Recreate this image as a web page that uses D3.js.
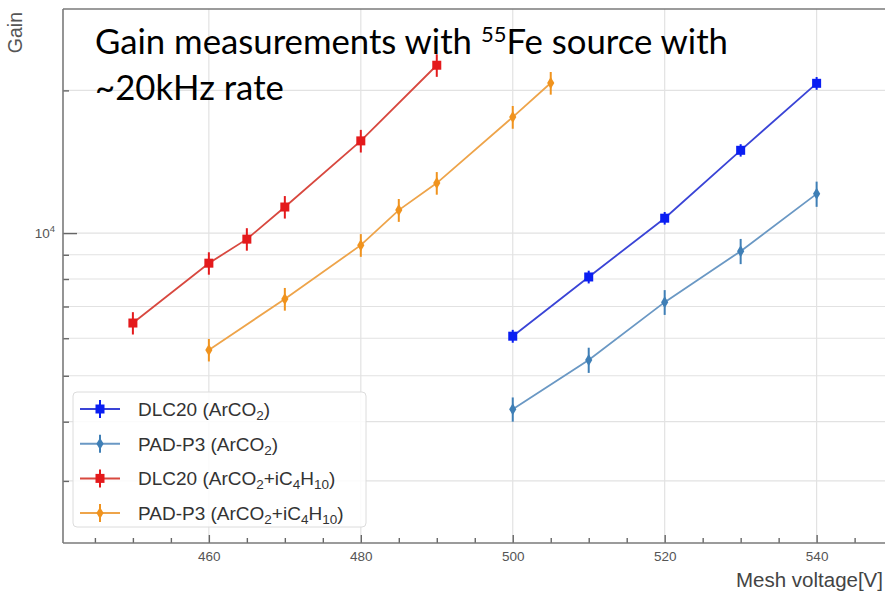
<!DOCTYPE html>
<html>
<head>
<meta charset="utf-8">
<script src="https://cdn.jsdelivr.net/npm/d3@7/dist/d3.min.js"></script>
<style>
  body { margin: 0; background: #fff; }
  svg { display: block; }
</style>
</head>
<body>
<div id="chart"></div>
<script>
// mesh voltages (V)
var voltsAr = [500, 510, 520, 530, 540];
var voltsDlcIso = [450, 460, 465, 470, 480, 490];
var voltsPadIso = [460, 470, 480, 485, 490, 500, 505];

// gains
var dlcAr = [6060, 8080, 10750, 14950, 20700];
var dlcArErr = [190, 250, 330, 450, 640];
var padAr = [4250, 5400, 7150, 9160, 12100];
var padArErr = [250, 330, 430, 560, 740];
var dlcIso = [6460, 8640, 9710, 11350, 15650, 22600];
var dlcIsoErr = [350, 470, 530, 620, 860, 1240];
var padIso = [5670, 7260, 9430, 11180, 12750, 17570, 20730];
var padIsoErr = [310, 400, 520, 620, 700, 970, 1140];

var xMajorTicks = [460, 480, 500, 520, 540];
var yMinorTicks = [3000, 4000, 5000, 6000, 7000, 8000, 9000, 20000];

var width = 885, height = 591;
var margin = { top: 9, right: 0, bottom: 48, left: 63 };

var svg = d3.select("#chart").append("svg")
  .attr("width", width)
  .attr("height", height);

svg.append("rect").attr("width", width).attr("height", height).attr("fill", "#fff");

var x = d3.scaleLinear()
  .domain([440.8, 549])
  .range([margin.left, width - margin.right]);

var y = d3.scaleLog()
  .domain([2219, 29700])
  .range([height - margin.bottom, margin.top]);

var x0 = x.range()[0], x1 = x.range()[1];
var y0 = y.range()[0], y1 = y.range()[1];

// grid
var grid = svg.append("g").attr("stroke", "#e2e2e2").attr("stroke-width", 1.2);
grid.selectAll(".gx").data(xMajorTicks).enter().append("line")
  .attr("x1", d => x(d)).attr("x2", d => x(d))
  .attr("y1", y1).attr("y2", y0);
grid.selectAll(".gy").data(yMinorTicks.concat([10000])).enter().append("line")
  .attr("x1", x0).attr("x2", x1)
  .attr("y1", d => y(d)).attr("y2", d => y(d));

// axes (ticks pointing inward)
var xAxisMinor = d3.axisBottom(x)
  .tickValues(d3.range(445, 549, 5).filter(v => xMajorTicks.indexOf(v) < 0))
  .tickSizeInner(-5).tickSizeOuter(0).tickFormat("");
var xAxis = d3.axisBottom(x)
  .tickValues(xMajorTicks)
  .tickSizeInner(-8).tickSizeOuter(0).tickPadding(8)
  .tickFormat(d3.format("d"));

svg.append("g").attr("class", "x minor")
  .attr("transform", "translate(0," + y0 + ")")
  .call(xAxisMinor);
svg.append("g").attr("class", "x axis")
  .attr("transform", "translate(0," + y0 + ")")
  .call(xAxis);

var yAxisMinor = d3.axisLeft(y)
  .tickValues(yMinorTicks)
  .tickSizeInner(-6).tickSizeOuter(0).tickFormat("");
var yAxis = d3.axisLeft(y)
  .tickValues([10000])
  .tickSizeInner(-14).tickSizeOuter(0).tickFormat("");

svg.append("g").attr("class", "y minor")
  .attr("transform", "translate(" + x0 + ",0)")
  .call(yAxisMinor);
svg.append("g").attr("class", "y axis")
  .attr("transform", "translate(" + x0 + ",0)")
  .call(yAxis);

svg.selectAll(".domain").remove();
svg.selectAll(".tick line").attr("stroke", "#666").attr("stroke-width", 1.4);
svg.selectAll(".x.axis .tick text")
  .attr("fill", "#555")
  .style("font-family", "Liberation Sans, Arial, sans-serif")
  .style("font-size", "13.5px");

// 10^4 label
var lab = svg.append("text")
  .attr("x", x0 - 8).attr("y", y(10000) + 5)
  .attr("text-anchor", "end")
  .attr("fill", "#555")
  .style("font-family", "Liberation Sans, Arial, sans-serif")
  .style("font-size", "13.5px");
lab.append("tspan").text("10");
lab.append("tspan").attr("dy", -6).style("font-size", "9.5px").text("4");

// spines
var spine = svg.append("g").attr("stroke", "#7a7a7a").attr("stroke-width", 1.6).attr("fill", "none");
spine.append("line").attr("x1", x0).attr("x2", x0).attr("y1", y1).attr("y2", y0);
spine.append("line").attr("x1", x0).attr("x2", x1).attr("y1", y0).attr("y2", y0);
spine.append("line").attr("x1", x0).attr("x2", x1).attr("y1", y1).attr("y2", y1);

// axis titles
svg.append("text")
  .attr("transform", "translate(22,12) rotate(-90)")
  .attr("text-anchor", "end")
  .attr("fill", "#555")
  .style("font-family", "Liberation Sans, Arial, sans-serif")
  .style("font-size", "19.5px")
  .text("Gain");

svg.append("text")
  .attr("x", 883).attr("y", 587)
  .attr("text-anchor", "end")
  .attr("fill", "#444")
  .style("font-family", "Liberation Sans, Arial, sans-serif")
  .style("font-size", "20.5px")
  .text("Mesh voltage[V]");

// series
var series = [
  { name: ["DLC20 (ArCO", "2", ")"], volts: voltsAr, vals: dlcAr, errs: dlcArErr,
    line: "#3a44d6", mark: "#0a1ef2", shape: "square" },
  { name: ["PAD-P3 (ArCO", "2", ")"], volts: voltsAr, vals: padAr, errs: padArErr,
    line: "#6a98c4", mark: "#3f7fb6", shape: "diamond" },
  { name: ["DLC20 (ArCO", "2", "+iC", "4", "H", "10", ")"], volts: voltsDlcIso, vals: dlcIso, errs: dlcIsoErr,
    line: "#d8483f", mark: "#e41a1c", shape: "square" },
  { name: ["PAD-P3 (ArCO", "2", "+iC", "4", "H", "10", ")"], volts: voltsPadIso, vals: padIso, errs: padIsoErr,
    line: "#eea44a", mark: "#f0931e", shape: "diamond" }
];

function drawMarker(g, shape, color) {
  if (shape === "square") {
    g.append("rect").attr("x", -4.5).attr("y", -4.5).attr("width", 9).attr("height", 9).attr("fill", color);
  } else {
    g.append("path").attr("d", "M0,-6L3.6,0L0,6L-3.6,0Z").attr("fill", color);
  }
}

var valueline = d3.line().x(d => x(d[0])).y(d => y(d[1]));

series.forEach(function (s) {
  var pts = s.volts.map((v, i) => [v, s.vals[i], s.errs[i]]);
  var g = svg.append("g");
  g.append("path")
    .datum(pts)
    .attr("d", valueline)
    .attr("fill", "none")
    .attr("stroke", s.line)
    .attr("stroke-width", 1.8);
  g.selectAll(".err").data(pts).enter().append("line")
    .attr("x1", d => x(d[0])).attr("x2", d => x(d[0]))
    .attr("y1", d => y(d[1] - d[2])).attr("y2", d => y(d[1] + d[2]))
    .attr("stroke", s.mark).attr("stroke-width", 2);
  g.selectAll(".mk").data(pts).enter().append("g")
    .attr("transform", d => "translate(" + x(d[0]) + "," + y(d[1]) + ")")
    .each(function () { drawMarker(d3.select(this), s.shape, s.mark); });
});

// legend
var legend = svg.append("g");
legend.append("rect")
  .attr("x", 73).attr("y", 392).attr("width", 293).attr("height", 135)
  .attr("rx", 4)
  .attr("fill", "#fff").attr("fill-opacity", 0.85)
  .attr("stroke", "#dcdcdc");

series.forEach(function (s, i) {
  var ly = 409 + i * 34.7;
  var row = legend.append("g").attr("transform", "translate(0," + ly + ")");
  row.append("line").attr("x1", 80).attr("x2", 120).attr("y1", 0).attr("y2", 0)
    .attr("stroke", s.line).attr("stroke-width", 2);
  row.append("line").attr("x1", 100).attr("x2", 100).attr("y1", -9).attr("y2", 9)
    .attr("stroke", s.mark).attr("stroke-width", 2);
  var mg = row.append("g").attr("transform", "translate(100,0)");
  drawMarker(mg, s.shape, s.mark);
  var t = row.append("text")
    .attr("x", 138).attr("y", 7)
    .attr("fill", "#333")
    .style("font-family", "Liberation Sans, Arial, sans-serif")
    .style("font-size", "19px");
  s.name.forEach(function (part, k) {
    var sub = k % 2 === 1;
    var ts = t.append("tspan").text(part);
    if (sub) ts.attr("dy", 4).style("font-size", "13.5px");
    else if (k > 0) ts.attr("dy", -4);
  });
});

// overlay annotation
var note = svg.append("g")
  .style("font-family", "Lato, 'Open Sans', sans-serif")
  .attr("fill", "#000");
var l1 = note.append("text").attr("x", 95).attr("y", 54).style("font-size", "30px");
l1.append("tspan").text("Gain measurements with ");
l1.append("tspan").attr("dy", -12).style("font-size", "19px").text("55");
l1.append("tspan").attr("dy", 12).text("Fe source with");
var l2 = note.append("text").attr("x", 95).attr("y", 100).style("font-size", "30px")
  .text("~20kHz rate");
// fit the first line to its width in the picture
var w1 = l1.node().getComputedTextLength();
var k = 633 / w1;
l1.style("font-size", (30 * k) + "px");
l1.selectAll("tspan").filter((d, i) => i === 1).style("font-size", (19 * k) + "px");
l2.style("font-size", (30 * k) + "px");
</script>
</body>
</html>
